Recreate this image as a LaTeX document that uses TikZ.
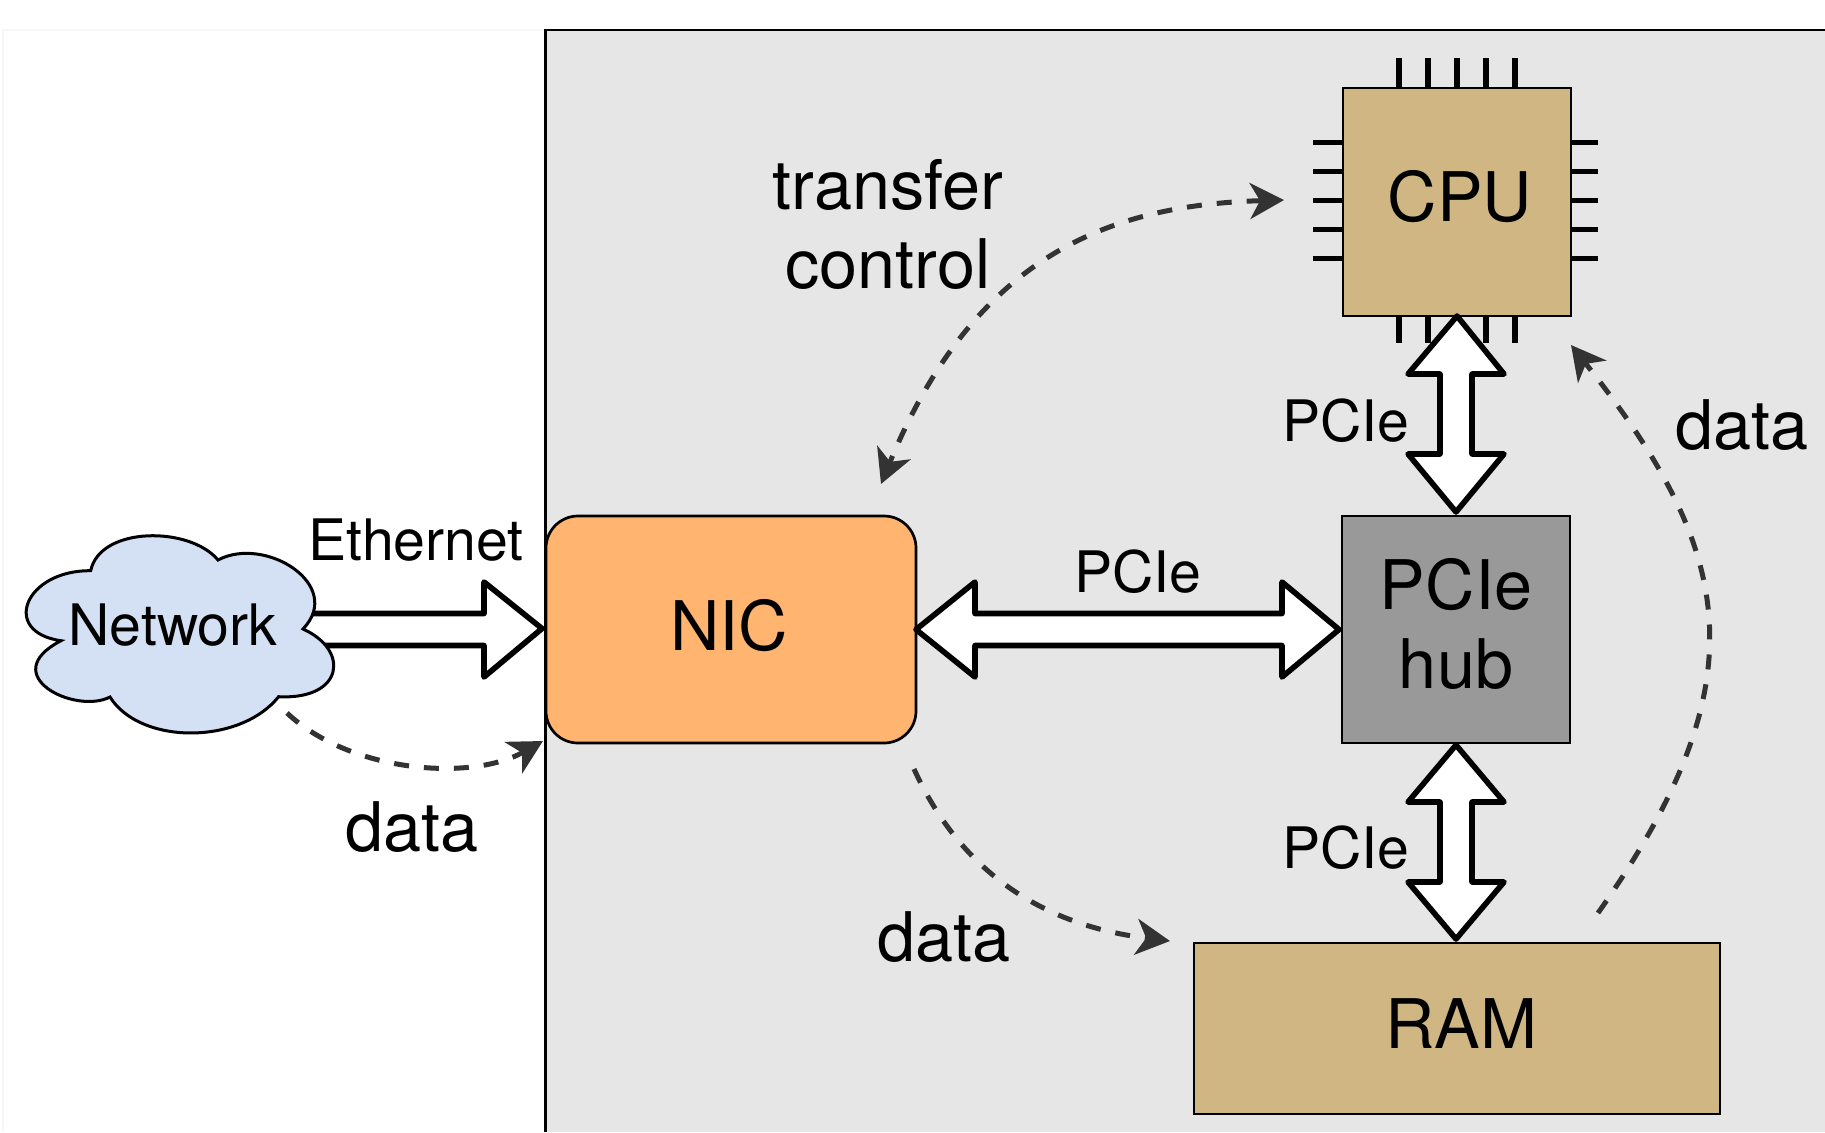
\documentclass[tikz,border=0pt]{standalone}
\usepackage{fontspec}
\setmainfont{TeX Gyre Heros}
\usetikzlibrary{calc,arrows.meta}
\pgfdeclarelayer{back}
\pgfdeclarelayer{mid}
\pgfsetlayers{back,mid,main}
\definecolor{panelgray}{HTML}{E6E6E6}
\definecolor{nicorange}{HTML}{FFB570}
\definecolor{hubgray}{HTML}{999999}
\definecolor{tan}{HTML}{D0B683}
\definecolor{cloudblue}{HTML}{D4E1F5}
\definecolor{dashgray}{HTML}{333333}
\tikzset{
  big/.style={font=\fontsize{34.2}{39.5}\selectfont},
  small/.style={font=\fontsize{28.6}{33}\selectfont},
  labelbig/.style={big,anchor=base,inner sep=0pt,align=center},
  labelsmall/.style={small,anchor=base,inner sep=0pt},
  boxnode/.style={draw=black,line width=1.35pt,inner sep=0pt,outer sep=0pt,big},
  wide/.style={draw=black,fill=white,line width=2.8pt,line join=round},
  pin/.style={draw=black,line width=2.6pt},
  dashline/.style={draw=dashgray,line width=2.5pt,dash pattern=on 7.5pt off 7.5pt},
  headend/.style={-{Stealth[length=17pt,width=18pt,inset=5pt,color=dashgray]}},
  headboth/.style={{Stealth[length=17pt,width=18pt,inset=5pt,color=dashgray]}-{Stealth[length=17pt,width=18pt,inset=5pt,color=dashgray]}}
}
\begin{document}
\begin{tikzpicture}[x=0.5pt,y=-0.5pt]
\useasboundingbox (0,0) rectangle (1825,1132);
% faint outer frame and panel
\begin{pgfonlayer}{back}
  \draw[draw=black!3,line width=0.8pt] (3,1132) -- (3,30) -- (546,30);
  \fill[panelgray] (546,30) rectangle (1825,1132);
  \draw[black,line width=1.4pt] (545.5,1132) -- (545.5,30) -- (1825,30);
\end{pgfonlayer}
% nodes
\node[boxnode,fill=nicorange,rounded corners=16pt,minimum width=185pt,minimum height=113.5pt,text height=20.5pt,text depth=0pt] (nic) at (731,629.5) {NIC\hspace*{2pt}};
\node[boxnode,fill=hubgray,minimum width=114pt,minimum height=113.5pt,align=center] (hub) at (1456,629.5) {PCIe\\hub\rule[-6pt]{0pt}{6pt}\hspace*{0pt}};
\node[boxnode,fill=tan,minimum width=263pt,minimum height=85.5pt,text height=20pt,text depth=0pt] (ram) at (1457,1028.5) {\hspace*{4pt}RAM};
\node[small,inner sep=0pt,anchor=base] (net) at (173,645.5) {Network};
% CPU pins
\coordinate (cpuc) at (1457,202);
\foreach \d in {-58,-29,0,29,58}{
  \draw[pin] ($(cpuc)+(\d,0)$) -- ++(0,-144);
  \draw[pin] ($(cpuc)+(\d,0)$) -- ++(0,141);
  \draw[pin] ($(cpuc)+(0,\d-1.5)$) -- ++(-144,0);
  \draw[pin] ($(cpuc)+(0,\d-1.5)$) -- ++(141,0);
}
\node[boxnode,fill=tan,minimum width=114pt,minimum height=114pt,text height=19pt,text depth=0pt] (cpu) at (cpuc) {\hspace*{3pt}CPU};
% cloud
\begin{pgfonlayer}{mid}
\draw[black,fill=cloudblue,line width=1.5pt,line join=miter]
  (90.7,570.7) .. controls (100,526) and (190,526) .. (218,560)
  .. controls (265,535) and (345,585) .. (303,629)
  .. controls (350,650) and (344,700) .. (278.6,696.7)
  .. controls (240,745) and (140,745) .. (110,697)
  .. controls (75,715) and (-5,675) .. (61,640.7)
  .. controls (0,632) and (25,570) .. (90.7,570.7) -- cycle;
\end{pgfonlayer}
% wide connectors
\begin{pgfonlayer}{back}
\draw[wide] ($(net.center |- nic.west)+(0,-16)$) -- ($(nic.west)+(-62,-16)$) -- ($(nic.west)+(-62,-47.5)$) -- ($(nic.west)+(-4,-1)$) -- ($(nic.west)+(-62,47.5)$) -- ($(nic.west)+(-62,16)$) -- ($(net.center |- nic.west)+(0,16)$) -- cycle;
\end{pgfonlayer}
\draw[wide] (nic.east) -- ++(59,-47.5) -- ++(0,31.5) -- ($(hub.west)+(-60,-16)$) -- ++(0,-31.5) -- ($(hub.west)+(-3,0)$) -- ($(hub.west)+(-60,47.5)$) -- ++(0,-31.5) -- ($(nic.east)+(59,16)$) -- ++(0,31.5) -- cycle;
\draw[wide] (cpu.south) -- ++(47,58) -- ++(-32,0) -- ($(hub.north)+(16,-62)$) -- ++(32,0) -- ($(hub.north)+(0,-4)$) -- ($(hub.north)+(-48,-62)$) -- ++(32,0) -- ($(cpu.south)+(-17,58)$) -- ++(-32,0) -- cycle;
\draw[wide] (hub.south) ++(0,2) -- ++(48,57) -- ++(-32,0) -- ($(ram.north)+(15,-61)$) -- ++(32,0) -- ($(ram.north)+(-1,-4)$) -- ($(ram.north)+(-49,-61)$) -- ++(32,0) -- ($(hub.south)+(-16,59)$) -- ++(-32,0) -- cycle;
% dashed connectors
\coordinate (d1s) at (287,713);
\coordinate (d1e) at (543,741);
\coordinate (d2s) at (1284,200);
\coordinate (d2e) at (881,484);
\coordinate (d3s) at (914,769);
\coordinate (d3e) at (1170,941);
\coordinate (d4s) at (1598,913);
\coordinate (d4e) at (1571,345);
\draw[dashline,headend] (d1s) .. controls (350,772) and (470,782) .. (d1e);
\draw[dashline,headboth] (d2s) .. controls (1110,205) and (975,255) .. (d2e);
\draw[dashline,headend] (d3s) .. controls (960,870) and (1040,925) .. (d3e);
\draw[dashline,headend] (d4s) .. controls (1762,680) and (1735,552) .. (d4e);
% labels
\node[labelsmall] (leth) at (416,560) {Ethernet};
\node[labelsmall] (lpc1) at (1346,441) {PCIe};
\node[labelsmall] (lpc2) at (1346,868) {PCIe};
\node[labelsmall] (lpc3) at (1138,592.5) {PCIe};
\node[labelbig] (ltr) at (888,209) {transfer};
\node[labelbig] (lct) at (888,288) {control};
\node[labelbig] (ld1) at (412,851) {data};
\node[labelbig] (ld2) at (944,961) {data};
\node[labelbig] (ld3) at (1742,449) {data};
\end{tikzpicture}
\end{document}
